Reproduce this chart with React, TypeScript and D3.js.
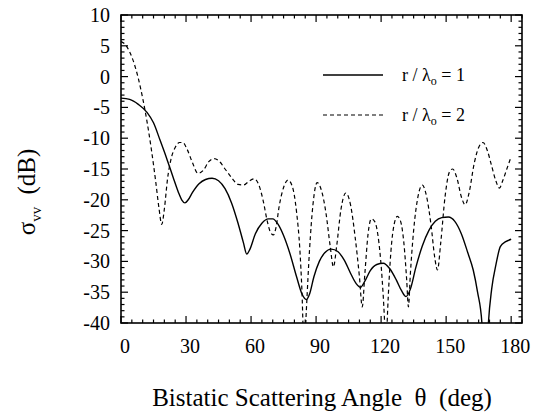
import React from "react";
import * as d3 from "d3";

const xTickValues = [0, 30, 60, 90, 120, 150, 180];
const yTickValues = [10, 5, 0, -5, -10, -15, -20, -25, -30, -35, -40];

// r / lambda_o = 1 (solid)
const solidAngles = [0, 4, 8, 12, 15, 18, 21, 24, 26.5, 28, 29.5, 31, 33, 36, 39, 42, 45, 48, 51, 54, 56.5, 58, 59.5, 62, 65, 68, 70, 72.5, 75, 78, 81, 83.5, 85.5, 87, 89, 91.5, 94, 97, 100, 103, 106, 108.5, 110.5, 112.5, 115, 118, 121, 124, 127, 129.5, 131.5, 133.5, 136, 139, 142, 145, 148, 151, 154, 157, 160, 162.5, 164.5, 166.5, 168, 169.5, 171, 173, 175, 177.5, 180];
const solidDb = [-3.5, -3.7, -4.5, -5.8, -7.5, -10.3, -13.2, -16.3, -18.8, -20.0, -20.5, -20.0, -18.8, -17.4, -16.7, -16.5, -16.9, -18.2, -20.5, -23.8, -27.0, -28.8, -28.0, -25.5, -23.8, -23.1, -23.1, -24.0, -25.8, -28.8, -32.5, -35.3, -36.2, -35.3, -32.5, -30.0, -28.6, -28.0, -28.4, -29.8, -32.0, -33.6, -34.2, -33.2, -31.5, -30.5, -30.3, -31.2, -33.0, -34.8, -35.7, -34.5, -31.0, -27.5, -25.0, -23.5, -22.9, -22.8, -23.5, -25.5, -28.6, -31.4, -35.0, -40.0, -52.0, -40.0, -34.5, -30.5, -27.6, -26.8, -26.4];

// r / lambda_o = 2 (dashed)
const dashedAngles = [0, 2, 4, 6, 8, 10, 12, 14, 16, 17.5, 18.8, 20, 21.5, 23, 25, 27, 28.5, 30.5, 33, 35.5, 38, 40.5, 43, 45.5, 48, 51, 54, 56.5, 59, 61.5, 63.5, 65.5, 67.5, 69, 70.3, 71.5, 73, 75, 77, 79, 81, 82.5, 83.5, 84.5, 85.5, 87, 88.5, 90.5, 92.5, 94.5, 96.5, 98, 99.5, 101.5, 103.7, 106, 108, 110, 111.3, 112.5, 114, 115.5, 117, 119, 120.5, 121.5, 122.2, 123, 124.5, 126, 127.5, 129, 130.5, 131.8, 132.6, 133.5, 135, 137, 139, 141, 143, 144.8, 146, 147.5, 149.5, 151.5, 153, 155, 157, 158.8, 160.5, 163, 165, 167, 169, 171, 173, 174.6, 176, 178, 180];
const dashedDb = [5.7, 5.2, 4.0, 2.2, -0.3, -3.5, -7.3, -11.8, -17.0, -21.3, -24.0, -21.5, -16.5, -13.5, -11.5, -10.7, -10.7, -11.8, -14.0, -15.7, -15.2, -13.8, -13.3, -13.8, -15.0, -16.4, -17.5, -17.6, -17.0, -16.6, -17.5, -20.0, -23.5, -25.3, -25.7, -24.5, -21.0, -18.0, -16.8, -17.8, -22.0, -28.0, -35.0, -45.0, -38.0, -28.0, -21.0, -17.2, -18.5, -22.0, -27.5, -30.9, -27.5, -21.5, -18.9, -21.0, -26.0, -32.5, -37.4, -32.0, -25.5, -23.1, -23.5, -27.0, -33.0, -39.0, -45.0, -38.0, -28.5, -24.0, -22.7, -23.5, -27.0, -33.0, -37.4, -32.0, -25.0, -19.5, -17.6, -19.5, -24.0, -29.5, -31.4, -27.0, -19.5, -15.5, -15.0, -16.5, -19.5, -20.8, -19.0, -14.0, -11.5, -10.7, -12.0, -14.5, -17.0, -18.1, -17.0, -15.0, -13.0];

const W = 539;
const H = 420;
const L = 121, R = 522, T = 15, B = 323;
const FONT = "'Liberation Serif', 'Times New Roman', serif";

export default function App() {
  const x = d3.scaleLinear().domain([0, 185]).range([L, R]);
  const y = d3.scaleLinear().domain([-40, 10]).range([B, T]);

  const line = d3
    .line<[number, number]>()
    .x((d) => x(d[0]))
    .y((d) => y(d[1]))
    .curve(d3.curveMonotoneX);

  const solidPts = solidAngles.map((a, i) => [a, solidDb[i]] as [number, number]);
  const dashedPts = dashedAngles.map((a, i) => [a, dashedDb[i]] as [number, number]);

  const xMinor = d3.range(0, 186, 5);
  const yMinor = d3.range(-40, 11, 1);

  return (
    <svg width={W} height={H} style={{ position: "absolute", left: 0, top: 0, background: "#fff" }} fontFamily={FONT}>
      <defs>
        <clipPath id="plotclip">
          <rect x={L} y={T} width={R - L} height={B - T} />
        </clipPath>
      </defs>
      {/* ticks */}
      <g stroke="#000" strokeWidth={1.2}>
        {xMinor.map((v) => {
          const major = v % 30 === 0;
          const len = major ? 7 : 3.5;
          return (
            <g key={"xt" + v}>
              <line x1={x(v)} x2={x(v)} y1={B} y2={B - len} />
              <line x1={x(v)} x2={x(v)} y1={T} y2={T + len} />
            </g>
          );
        })}
        {yMinor.map((v) => {
          const major = v % 5 === 0;
          const len = major ? 7 : 3.5;
          return (
            <g key={"yt" + v}>
              <line x1={L} x2={L + len} y1={y(v)} y2={y(v)} />
              <line x1={R} x2={R - len} y1={y(v)} y2={y(v)} />
            </g>
          );
        })}
      </g>
      {/* curves */}
      <g clipPath="url(#plotclip)" fill="none" stroke="#000">
        <path d={line(solidPts) || ""} strokeWidth={1.4} />
        <path d={line(dashedPts) || ""} strokeWidth={1.2} strokeDasharray="4,3" />
      </g>
      {/* frame */}
      <rect x={L} y={T} width={R - L} height={B - T} fill="none" stroke="#000" strokeWidth={1.6} />
      {/* tick labels */}
      <g fontSize={20} fill="#000">
        {xTickValues.map((v) => (
          <text key={"xl" + v} x={x(v) + 4} y={353} textAnchor="middle">
            {v}
          </text>
        ))}
        {yTickValues.map((v) => (
          <text key={"yl" + v} x={110} y={y(v)} dy="0.35em" textAnchor="end">
            {v}
          </text>
        ))}
      </g>
      {/* axis titles */}
      <text x={322} y={406} fontSize={25} textAnchor="middle" fill="#000" xmlSpace="preserve">
        Bistatic Scattering Angle  θ  (deg)
      </text>
      <text transform="translate(35,192) rotate(-90)" fontSize={25} textAnchor="middle" fill="#000" xmlSpace="preserve">
        σ<tspan fontSize={15} dy={6}>vv</tspan>
        <tspan dy={-6} dx={6}> (dB)</tspan>
      </text>
      {/* legend */}
      <g>
        <line x1={323} x2={383} y1={75} y2={75} stroke="#000" strokeWidth={1.4} />
        <line x1={323} x2={383} y1={115} y2={115} stroke="#000" strokeWidth={1.2} strokeDasharray="4,3" />
        <text x={402} y={81} fontSize={18} fill="#000" xmlSpace="preserve">
          r / λ<tspan fontSize={12} dy={4}>o</tspan>
          <tspan dy={-4}> = 1</tspan>
        </text>
        <text x={402} y={121} fontSize={18} fill="#000" xmlSpace="preserve">
          r / λ<tspan fontSize={12} dy={4}>o</tspan>
          <tspan dy={-4}> = 2</tspan>
        </text>
      </g>
    </svg>
  );
}
